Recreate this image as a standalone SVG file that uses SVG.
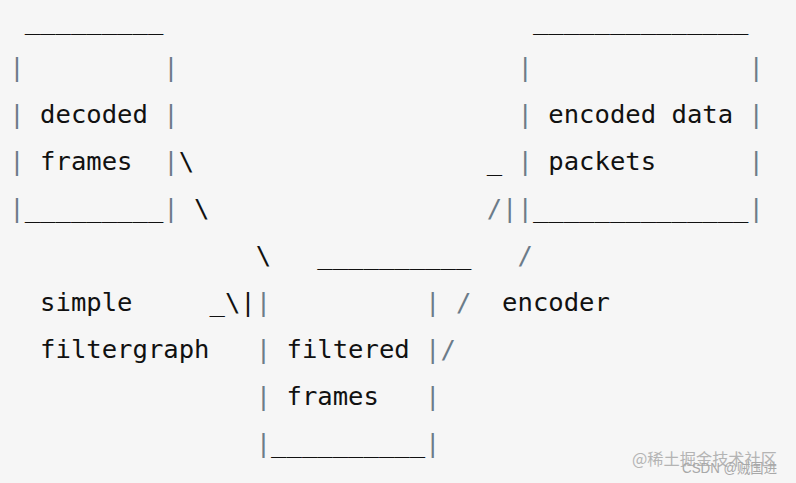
<svg xmlns="http://www.w3.org/2000/svg" width="796" height="483" viewBox="0 0 796 483">
<style>
text{font-family:"DejaVu Sans Mono","Liberation Mono",monospace;font-size:25.58px;fill:#111;white-space:pre}
.g{fill:#6c7c89}
text.wm1{font-family:"Noto Sans CJK SC","Liberation Sans",sans-serif;fill:#b4b4b4;font-size:16px}
text.wm2{font-family:"Liberation Sans","Noto Sans CJK SC",sans-serif;fill:#a8a8a8;font-size:14px}
</style>
<rect width="796" height="483" fill="#f6f6f6"/>
<g id="decoded-frames">
<text x="24.7" y="28.5">_________</text>
<text class="g" x="9.3" y="75.5">|</text><text class="g" x="163.3" y="75.5">|</text>
<text class="g" x="9.3" y="122.5">|</text><text x="40.1" y="122.5">decoded</text><text class="g" x="163.3" y="122.5">|</text>
<text class="g" x="9.3" y="169.5">|</text><text x="40.1" y="169.5">frames</text><text class="g" x="163.3" y="169.5">|</text>
<text class="g" x="9.3" y="216.5">|</text><text x="24.7" y="216.5">_________</text><text class="g" x="163.3" y="216.5">|</text>
</g>
<g id="encoded-data-packets">
<text x="532.9" y="28.5">______________</text>
<text class="g" x="517.5" y="75.5">|</text><text class="g" x="748.5" y="75.5">|</text>
<text class="g" x="517.5" y="122.5">|</text><text x="548.3" y="122.5">encoded data</text><text class="g" x="748.5" y="122.5">|</text>
<text class="g" x="517.5" y="169.5">|</text><text x="548.3" y="169.5">packets</text><text class="g" x="748.5" y="169.5">|</text>
<text class="g" x="517.5" y="216.5">|</text><text x="532.9" y="216.5">______________</text><text class="g" x="748.5" y="216.5">|</text>
</g>
<g id="filtered-frames">
<text x="317.3" y="263.5">__________</text>
<text class="g" x="255.7" y="310.5">|</text><text class="g" x="425.1" y="310.5">|</text>
<text class="g" x="255.7" y="357.5">|</text><text x="286.5" y="357.5">filtered</text><text class="g" x="425.1" y="357.5">|</text>
<text class="g" x="255.7" y="404.5">|</text><text x="286.5" y="404.5">frames</text><text class="g" x="425.1" y="404.5">|</text>
<text class="g" x="255.7" y="451.5">|</text><text x="271.1" y="451.5">__________</text><text class="g" x="425.1" y="451.5">|</text>
</g>
<g id="simple-filtergraph">
<text x="40.1" y="310.5">simple</text>
<text x="40.1" y="357.5">filtergraph</text>
</g>
<g id="encoder">
<text x="502.1" y="310.5">encoder</text>
</g>
<g id="connectors">
<text x="178.7" y="169.5">\</text>
<text x="194.1" y="216.5">\</text>
<text x="255.7" y="263.5">\</text>
<text x="209.5" y="310.5">_\|</text>
<text x="486.7" y="169.5">_</text>
<text class="g" x="486.7" y="216.5">/|</text>
<text class="g" x="517.5" y="263.5">/</text>
<text class="g" x="455.9" y="310.5">/</text>
<text class="g" x="440.5" y="357.5">/</text>
</g>
<text class="wm1" x="632" y="465" textLength="145" lengthAdjust="spacingAndGlyphs">@稀土掘金技术社区</text>
<text class="wm2" x="682" y="473" textLength="95" lengthAdjust="spacingAndGlyphs">CSDN @贼国进</text>
</svg>
